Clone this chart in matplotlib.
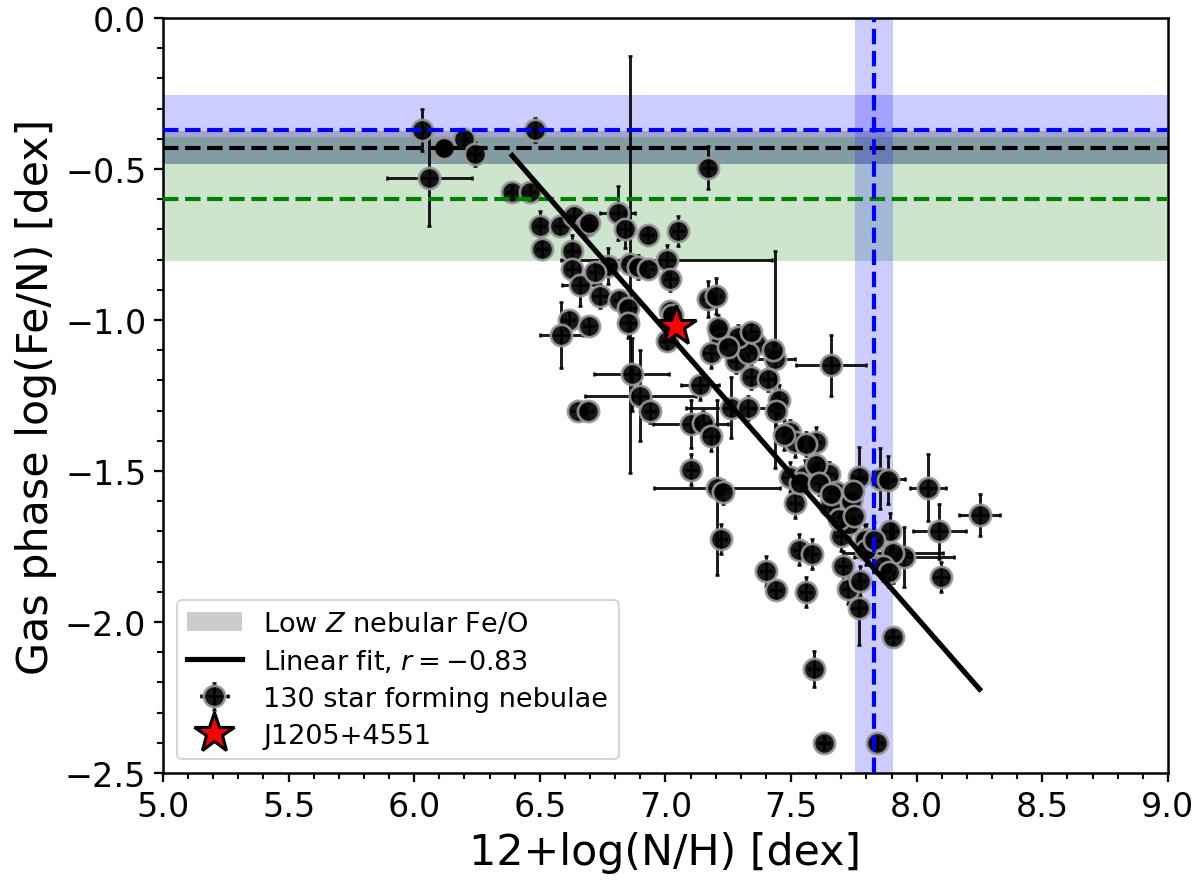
import numpy as np
from matplotlib import pyplot as plt
from matplotlib.ticker import AutoMinorLocator, MultipleLocator
from matplotlib.patches import Patch

# nebulae: 12+log(N/H), log(Fe/N) and errors
neb_x = [6.03, 6.11, 6.20, 6.24, 6.06, 6.48, 6.39, 6.46, 6.50, 6.58,
         6.635, 6.685, 6.695, 6.51, 6.63, 6.63, 6.66, 6.81, 6.84, 6.93,
         7.05, 6.77, 6.86, 6.89, 7.005, 7.02, 6.74, 6.815, 6.85, 6.85,
         6.615, 6.585, 6.695, 7.02, 7.005, 6.865, 6.90, 6.94, 6.65, 6.69,
         7.10, 7.17, 7.20, 7.215, 7.22, 7.18, 7.30, 7.36, 7.28, 7.33,
         7.435, 7.66, 7.34, 7.41, 7.137, 7.45, 7.44, 7.26, 7.33, 7.15,
         7.18, 7.495, 7.515, 7.60, 7.10, 7.205, 7.23, 7.495, 7.555, 7.61,
         7.65, 7.515, 7.68, 7.74, 7.77, 7.855, 7.885, 7.22, 7.655, 7.72,
         7.70, 7.80, 7.895, 8.045, 8.25, 7.74, 7.73, 8.09, 7.795, 7.53,
         7.585, 7.95, 7.905, 7.705, 7.865, 7.89, 7.40, 7.44, 7.56, 7.725,
         7.775, 7.77, 8.095, 7.905, 7.59, 7.63, 7.84, 7.17, 7.60, 7.535,
         7.61, 7.66, 7.745, 7.69, 7.75, 7.29, 7.25, 7.34, 7.21, 7.47,
         7.56, 7.80, 7.83, 6.72, 6.93, 7.43, 7.025, 6.12]
neb_y = [-0.37, -0.43, -0.40, -0.45, -0.53, -0.37, -0.575, -0.575, -0.69, -0.69,
         -0.655, -0.69, -0.68, -0.765, -0.77, -0.83, -0.885, -0.645, -0.70, -0.72,
         -0.705, -0.82, -0.815, -0.825, -0.80, -0.865, -0.92, -0.935, -0.96, -1.01,
         -1.00, -1.05, -1.02, -0.97, -1.07, -1.18, -1.25, -1.30, -1.30, -1.30,
         -1.345, -0.93, -0.92, -1.04, -1.07, -1.11, -1.07, -1.08, -1.135, -1.11,
         -1.13, -1.15, -1.19, -1.195, -1.215, -1.265, -1.30, -1.29, -1.29, -1.34,
         -1.385, -1.37, -1.405, -1.405, -1.495, -1.555, -1.57, -1.52, -1.515, -1.495,
         -1.51, -1.605, -1.57, -1.59, -1.52, -1.525, -1.53, -1.725, -1.615, -1.66,
         -1.715, -1.725, -1.70, -1.555, -1.645, -1.60, -1.675, -1.70, -1.73, -1.76,
         -1.775, -1.785, -1.77, -1.815, -1.815, -1.835, -1.83, -1.895, -1.90, -1.89,
         -1.865, -1.955, -1.85, -2.05, -2.155, -2.40, -2.40, -0.495, -1.48, -1.54,
         -1.54, -1.575, -1.565, -1.66, -1.65, -1.055, -1.09, -1.04, -1.025, -1.38,
         -1.41, -1.76, -1.73, -0.84, -0.83, -1.10, -0.985, -0.43]
neb_xerr = [0.01, 0.02, 0.01, 0.02, 0.17, 0.01, 0.02, 0.02, 0.02, 0.02,
            0.02, 0.02, 0.02, 0.02, 0.02, 0.02, 0.07, 0.07, 0.02, 0.02,
            0.02, 0.05, 0.12, 0.02, 0.42, 0.02, 0.03, 0.02, 0.03, 0.03,
            0.02, 0.085, 0.02, 0.02, 0.02, 0.15, 0.22, 0.02, 0.02, 0.02,
            0.15, 0.02, 0.02, 0.04, 0.03, 0.03, 0.02, 0.03, 0.02, 0.02,
            0.08, 0.14, 0.02, 0.02, 0.075, 0.02, 0.02, 0.18, 0.02, 0.02,
            0.03, 0.02, 0.03, 0.02, 0.02, 0.25, 0.02, 0.03, 0.02, 0.02,
            0.02, 0.02, 0.02, 0.02, 0.02, 0.10, 0.02, 0.02, 0.02, 0.03,
            0.02, 0.02, 0.03, 0.07, 0.08, 0.02, 0.02, 0.105, 0.02, 0.02,
            0.02, 0.20, 0.20, 0.02, 0.02, 0.02, 0.02, 0.02, 0.02, 0.02,
            0.02, 0.03, 0.03, 0.02, 0.02, 0.02, 0.02, 0.02, 0.02, 0.02,
            0.02, 0.02, 0.02, 0.02, 0.02, 0.02, 0.02, 0.02, 0.03, 0.02,
            0.02, 0.02, 0.02, 0.02, 0.02, 0.02, 0.02, 0.02]
neb_yerr = [0.07, 0.03, 0.02, 0.04, 0.16, 0.04, 0.02, 0.02, 0.05, 0.03,
            0.03, 0.03, 0.03, 0.03, 0.05, 0.03, 0.07, 0.09, 0.06, 0.03,
            0.05, 0.06, 0.69, 0.04, 0.05, 0.04, 0.04, 0.03, 0.04, 0.05,
            0.03, 0.11, 0.03, 0.03, 0.03, 0.12, 0.15, 0.04, 0.03, 0.03,
            0.08, 0.06, 0.06, 0.03, 0.05, 0.05, 0.03, 0.04, 0.04, 0.03,
            0.36, 0.10, 0.04, 0.04, 0.05, 0.05, 0.05, 0.10, 0.04, 0.04,
            0.05, 0.04, 0.05, 0.05, 0.05, 0.29, 0.04, 0.05, 0.05, 0.04,
            0.04, 0.05, 0.05, 0.05, 0.10, 0.10, 0.08, 0.05, 0.05, 0.05,
            0.05, 0.05, 0.06, 0.11, 0.07, 0.04, 0.05, 0.09, 0.05, 0.05,
            0.05, 0.10, 0.10, 0.05, 0.05, 0.05, 0.05, 0.03, 0.05, 0.05,
            0.05, 0.12, 0.05, 0.02, 0.06, 0.02, 0.02, 0.07, 0.04, 0.04,
            0.04, 0.04, 0.05, 0.04, 0.05, 0.04, 0.04, 0.03, 0.04, 0.05,
            0.04, 0.05, 0.06, 0.04, 0.03, 0.03, 0.03, 0.03]

# J1205+4551
star_x, star_y = 7.04, -1.02

# linear fit
fit_slope, fit_intercept = -0.950, 5.615
fit_xrange = [6.39, 8.25]

# reference values (centre, half width)
solar_fe_n, solar_fe_n_err = -0.37, 0.115
lowz_fe_n, lowz_fe_n_err = -0.43, 0.055
green_fe_n, green_fe_n_err = -0.60, 0.205
solar_nh, solar_nh_err = 7.83, 0.075

plt.rcParams['font.family'] = 'DejaVu Sans'
fig = plt.figure(figsize=(8, 5.913), dpi=150)
ax = fig.add_axes([0.1358, 0.1274, 0.8375, 0.8512])

# bands
ax.axhspan(solar_fe_n - solar_fe_n_err, solar_fe_n + solar_fe_n_err,
           color='b', alpha=0.2, lw=0, zorder=0)
ax.axhspan(lowz_fe_n - lowz_fe_n_err, lowz_fe_n + lowz_fe_n_err,
           color='k', alpha=0.2, lw=0, zorder=0)
ax.axhspan(green_fe_n - green_fe_n_err, green_fe_n + green_fe_n_err,
           color='g', alpha=0.2, lw=0, zorder=0)
ax.axvspan(solar_nh - solar_nh_err, solar_nh + solar_nh_err,
           color='b', alpha=0.2, lw=0, zorder=0)

# points
eb = ax.errorbar(neb_x, neb_y, xerr=neb_xerr, yerr=neb_yerr, fmt='o',
                 color='k', ms=10.2, mec='0.6', mew=1.3, elinewidth=1.4,
                 capsize=1.0, capthick=1.4, alpha=0.9, zorder=2,
                 label='130 star forming nebulae')

# dashed reference lines
ax.axhline(solar_fe_n, color='b', ls='--', lw=2, zorder=3)
ax.axhline(lowz_fe_n, color='k', ls='--', lw=2, zorder=3)
ax.axhline(green_fe_n, color='g', ls='--', lw=2, zorder=3)
ax.axvline(solar_nh, color='b', ls='--', lw=2, zorder=3)

xf = np.array(fit_xrange)
fit_line, = ax.plot(xf, fit_slope * xf + fit_intercept, 'k-', lw=2.5, zorder=4,
                    label=r'Linear fit, $r = -0.83$')

star, = ax.plot(star_x, star_y, '*', color='red', mec='k', mew=1.5, ms=20,
                zorder=5, label='J1205+4551')

patch = Patch(facecolor='k', alpha=0.2, label=r'Low $Z$ nebular Fe/O')

ax.legend(handles=[patch, fit_line, eb, star], loc='lower left', fontsize=13,
          handlelength=2.0, borderpad=0.4, labelspacing=0.4)

ax.set_xlim(5.0, 9.0)
ax.set_ylim(-2.5, 0.0)
ax.xaxis.set_major_locator(MultipleLocator(0.5))
ax.yaxis.set_major_locator(MultipleLocator(0.5))
ax.xaxis.set_minor_locator(AutoMinorLocator(5))
ax.yaxis.set_minor_locator(AutoMinorLocator(5))
ax.tick_params(which='major', labelsize=16, length=4.5, width=1.1)
ax.tick_params(which='minor', length=2.7, width=1.0)
for s in ax.spines.values():
    s.set_linewidth(1.2)

ax.set_xlabel('12+log(N/H) [dex]', fontsize=20.5)
ax.set_ylabel('Gas phase log(Fe/N) [dex]', fontsize=20.5)

fig.savefig('out.png', dpi=150)
